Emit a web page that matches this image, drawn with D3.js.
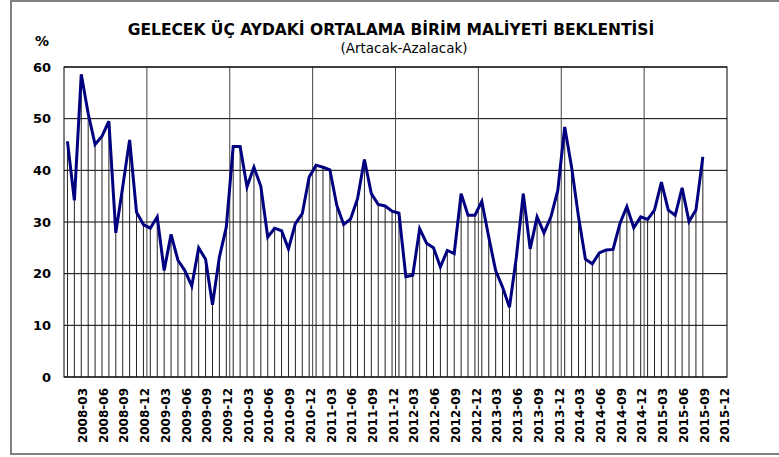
<!DOCTYPE html>
<html><head><meta charset="utf-8">
<script src="https://cdn.jsdelivr.net/npm/d3@7"></script>
<style>
html,body{margin:0;padding:0;background:#fff;}
svg{display:block;}
text{font-family:"DejaVu Sans",Verdana,sans-serif;}
</style></head>
<body>
<svg id="c" width="779" height="457"></svg>
<script>
const years = [2008,2009,2010,2011,2012,2013,2014,2015];
const monthNums = ["01","02","03","04","05","06","07","08","09","10","11","12"];
const months = [];
years.forEach(y => monthNums.forEach(m => months.push(y + "-" + m)));

const values = [45.6, 34.2, 58.6, 51.0, 45.0, 46.6, 49.5, 27.9, 36.8, 45.9, 31.9, 29.5,
 28.8, 31.0, 20.6, 27.6, 22.6, 20.6, 17.6, 25.0, 22.8, 14.0, 23.2, 29.0,
 44.6, 44.6, 36.8, 40.6, 36.9, 27.1, 28.8, 28.3, 24.8, 29.7, 31.6, 38.7,
 41.0, 40.6, 40.1, 33.2, 29.5, 30.6, 34.5, 42.1, 35.5, 33.4, 33.1, 32.1,
 31.7, 19.4, 19.7, 28.7, 25.9, 25.0, 21.3, 24.5, 23.9, 35.5, 31.3, 31.3,
 34.0, 27.1, 20.6, 17.4, 13.5, 23.2, 35.5, 24.8, 31.0, 27.9, 31.0, 36.1,
 48.4, 40.6, 31.0, 22.8, 21.9, 24.0, 24.6, 24.7, 29.7, 33.0, 28.9, 31.0,
 30.5, 32.3, 37.7, 32.3, 31.3, 36.6, 30.1, 32.3, 42.6];

const xTickLabels = ["2008-03","2008-06","2008-09","2008-12","2009-03","2009-06","2009-09","2009-12",
 "2010-03","2010-06","2010-09","2010-12","2011-03","2011-06","2011-09","2011-12",
 "2012-03","2012-06","2012-09","2012-12","2013-03","2013-06","2013-09","2013-12",
 "2014-03","2014-06","2014-09","2014-12","2015-03","2015-06","2015-09","2015-12"];
const yTicks = [0,10,20,30,40,50,60];
const title = "GELECEK ÜÇ AYDAKİ ORTALAMA BİRİM MALİYETİ BEKLENTİSİ";
const subtitle = "(Artacak-Azalacak)";
const unit = "%";

const svg = d3.select("#c");
const L = 64, R = 727, T = 67, B = 377;

const x = d3.scaleBand().domain(months).range([L, R]).padding(0);
const y = d3.scaleLinear().domain([0, 60]).range([B, T]);
const cx = m => x(m) + x.bandwidth() / 2;

// outer frame
const frame = svg.append("g").attr("stroke", "#808080").attr("stroke-width", 2).attr("fill", "none");
frame.append("path").attr("d", "M779,1 L11,1 L11,454 L779,454");

// horizontal gridlines
svg.append("g").selectAll("line").data(yTicks).join("line")
  .attr("x1", L).attr("x2", R).attr("y1", d => y(d)).attr("y2", d => y(d))
  .attr("stroke", "#000").attr("stroke-width", 1);

// major vertical gridlines (year boundaries)
svg.append("g").selectAll("line").data(years.slice(1)).join("line")
  .attr("x1", d => x(d + "-01")).attr("x2", d => x(d + "-01"))
  .attr("y1", T).attr("y2", B)
  .attr("stroke", "#444").attr("stroke-width", 1);

// drop lines
const data = values.map((v, i) => ({m: months[i], v}));
svg.append("g").selectAll("line").data(data).join("line")
  .attr("x1", d => cx(d.m)).attr("x2", d => cx(d.m))
  .attr("y1", d => y(d.v)).attr("y2", B)
  .attr("stroke", "#222").attr("stroke-width", 1);

// plot border
svg.append("rect").attr("x", L).attr("y", T).attr("width", R - L).attr("height", B - T)
  .attr("fill", "none").attr("stroke", "#000").attr("stroke-width", 1);

// line
svg.append("path").datum(data)
  .attr("d", d3.line().x(d => cx(d.m)).y(d => y(d.v)))
  .attr("fill", "none").attr("stroke", "#000080").attr("stroke-width", 3)
  .attr("stroke-linejoin", "miter");

// y axis labels
const yAxis = d3.axisLeft(y).tickValues(yTicks).tickSize(0).tickPadding(13);
const gy = svg.append("g").attr("transform", `translate(${L},0)`).call(yAxis);
gy.select(".domain").remove();
gy.selectAll("text").attr("font-family", "DejaVu Sans").attr("font-weight", "bold")
  .attr("font-size", 13).attr("fill", "#000");

// x axis labels
const xAxis = d3.axisBottom(x).tickValues(xTickLabels).tickSize(0).tickPadding(0);
const gx = svg.append("g").attr("transform", `translate(0,${B})`).call(xAxis);
gx.select(".domain").remove();
gx.selectAll("text")
  .attr("font-family", "DejaVu Sans").attr("font-weight", "bold").attr("font-size", 12).attr("fill", "#000")
  .attr("transform", "rotate(-90)")
  .attr("text-anchor", "end").attr("x", -11).attr("y", 1.5).attr("dy", "0.35em");

// title & subtitle
svg.append("text").attr("x", 391).attr("y", 35).attr("text-anchor", "middle")
  .attr("font-weight", "bold").attr("font-size", 15.5).text(title);
svg.append("text").attr("x", 404).attr("y", 53).attr("text-anchor", "middle")
  .attr("font-size", 13.5).text(subtitle);
svg.append("text").attr("x", 42).attr("y", 46).attr("text-anchor", "middle")
  .attr("font-weight", "bold").attr("font-size", 14).text(unit);
</script>
</body></html>
